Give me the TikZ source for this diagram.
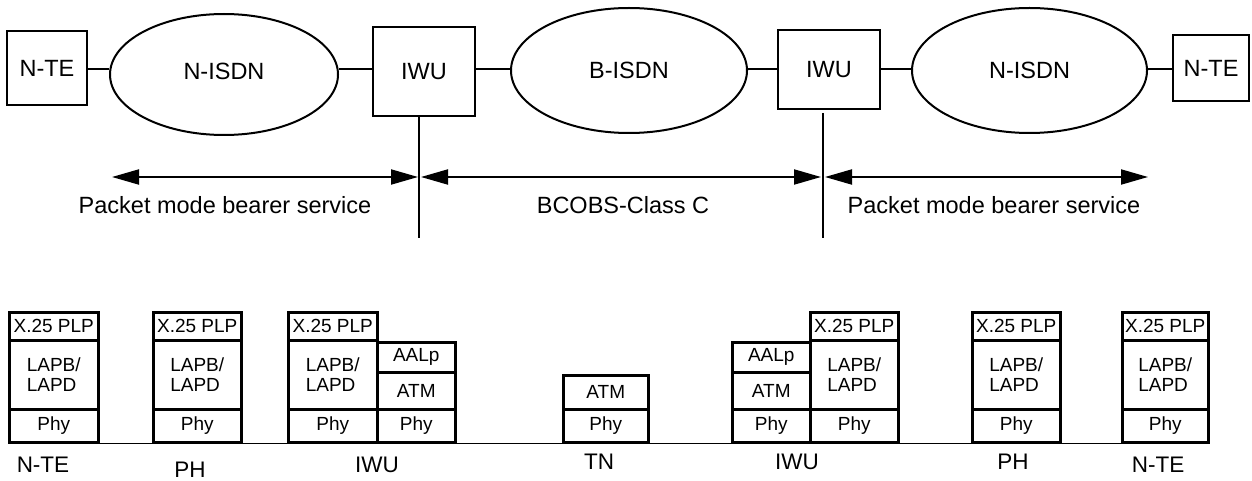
\documentclass[tikz,border=0pt]{standalone}
\usepackage{fontspec}
\setmainfont{Liberation Sans}
\usetikzlibrary{arrows.meta,shapes.geometric}
\tikzset{
  unit/.style={draw, line width=2pt, inner sep=0pt, font=\fontsize{23.5}{26}\selectfont},
  cloud/.style={draw, ellipse, line width=2pt, inner sep=0pt, font=\fontsize{23.5}{26}\selectfont},
  link/.style={line width=2pt},
  span/.style={line width=2pt, {Triangle[length=27pt,width=15pt]}-{Triangle[length=27pt,width=15pt]}},
  spantext/.style={inner sep=0pt, font=\fontsize{23.5}{26}\selectfont},
  cell/.style={draw, line width=2.5pt, inner sep=0pt, anchor=north west, align=left, font=\fontsize{19}{20}\selectfont},
  wire/.style={line width=1.8pt},
  stacklabel/.style={inner sep=0pt, font=\fontsize{22.5}{25}\selectfont}
}
\newcommand\layer[6]{\node[cell, minimum width=#4pt, minimum height=#5pt] (#1) at (#2,#3) {#6};}
\begin{document}
\begin{tikzpicture}[x=1pt, y=-1pt]
\useasboundingbox (0,0) rectangle (1252,481);
% ---- top network chain
\node[unit, minimum width=80pt, minimum height=74pt] (nte1) at (47,68) {N-TE};
\node[cloud, minimum width=228pt, minimum height=121pt] (nisdn1) at (224,74.5) {\raisebox{6.5pt}{N-ISDN}};
\node[unit, minimum width=102pt, minimum height=89pt] (iwu1) at (424,71.5) {IWU};
\node[cloud, minimum width=236pt, minimum height=125pt] (bisdn) at (629,70.5) {B-ISDN};
\node[unit, minimum width=102pt, minimum height=79pt] (iwu2) at (829,69.5) {IWU};
\node[cloud, minimum width=235pt, minimum height=125pt] (nisdn2) at (1029.5,70.5) {N-ISDN};
\node[unit, minimum width=76pt, minimum height=66pt] (nte2) at (1211,68) {N-TE};
\coordinate (row) at (0,69);
\draw[link] (nte1.east |- row) -- (nisdn1.west |- row);
\draw[link] (nisdn1.east |- row) -- (iwu1.west |- row);
\draw[link] (iwu1.east |- row) -- (bisdn.west |- row);
\draw[link] (bisdn.east |- row) -- (iwu2.west |- row);
\draw[link] (iwu2.east |- row) -- (nisdn2.west |- row);
\draw[link] (nisdn2.east |- row) -- (nte2.west |- row);
% ---- dividing lines
\coordinate (v1b) at (419,238);
\coordinate (v2t) at (823,113);
\coordinate (v2b) at (823,238);
\draw[link] (iwu1.south -| v1b) -- (v1b);
\draw[link] (v2t) -- (v2b);
% ---- service spans
\coordinate (a1l) at (112,177);
\coordinate (a1r) at (418,177);
\coordinate (a2l) at (421,177);
\coordinate (a2r) at (821,177);
\coordinate (a3l) at (825,177);
\coordinate (a3r) at (1148,177);
\draw[span] (a1l) -- (a1r);
\draw[span] (a2l) -- (a2r);
\draw[span] (a3l) -- (a3r);
\node[spantext] (t1) at (225,205) {Packet mode bearer service};
\node[spantext] (t2) at (623,205) {BCOBS-Class C};
\node[spantext] (t3) at (994,205) {Packet mode bearer service};
% ---- protocol stacks
% N-TE
\layer{a1}{8}{311}{89}{28}{X.25 PLP}
\layer{a2}{8}{339}{89}{69}{LAPB/\\LAPD}
\layer{a3}{8}{408}{89}{33}{Phy}
% PH
\layer{b1}{152}{311}{88}{28}{X.25 PLP}
\layer{b2}{152}{339}{88}{69}{LAPB/\\LAPD}
\layer{b3}{152}{408}{88}{33}{Phy}
% IWU left
\layer{c1}{287}{311}{89}{28}{X.25 PLP}
\layer{c2}{287}{339}{89}{69}{LAPB/\\LAPD}
\layer{c3}{287}{408}{89}{33}{Phy}
\layer{c4}{376}{341}{78}{30}{AALp}
\layer{c5}{376}{371}{78}{37}{ATM}
\layer{c6}{376}{408}{78}{33}{Phy}
% TN
\layer{d1}{562}{374}{85}{34}{ATM}
\layer{d2}{562}{408}{85}{33}{Phy}
% IWU right
\layer{e1}{731}{341}{78}{30}{AALp}
\layer{e2}{731}{371}{78}{37}{ATM}
\layer{e3}{731}{408}{78}{33}{Phy}
\layer{e4}{809}{311}{88}{28}{X.25 PLP}
\layer{e5}{809}{339}{88}{69}{LAPB/\\LAPD}
\layer{e6}{809}{408}{88}{33}{Phy}
% PH
\layer{f1}{971}{311}{88}{28}{X.25 PLP}
\layer{f2}{971}{339}{88}{69}{LAPB/\\LAPD}
\layer{f3}{971}{408}{88}{33}{Phy}
% N-TE
\layer{g1}{1121}{311}{86}{28}{X.25 PLP}
\layer{g2}{1121}{339}{86}{69}{LAPB/\\LAPD}
\layer{g3}{1121}{408}{86}{33}{Phy}
% wires between stacks
\draw[wire] (a3.south east) -- (b3.south west);
\draw[wire] (b3.south east) -- (c3.south west);
\draw[wire] (c6.south east) -- (d2.south west);
\draw[wire] (d2.south east) -- (e3.south west);
\draw[wire] (e6.south east) -- (f3.south west);
\draw[wire] (f3.south east) -- (g3.south west);
% stack labels
\node[stacklabel] (la) at (43,465) {N-TE};
\node[stacklabel] (lb) at (190,470) {PH};
\node[stacklabel] (lc) at (377,465) {IWU};
\node[stacklabel] (ld) at (599,462) {TN};
\node[stacklabel] (le) at (797,462) {IWU};
\node[stacklabel] (lf) at (1013,462) {PH};
\node[stacklabel] (lg) at (1158,465) {N-TE};
\end{tikzpicture}
\end{document}
